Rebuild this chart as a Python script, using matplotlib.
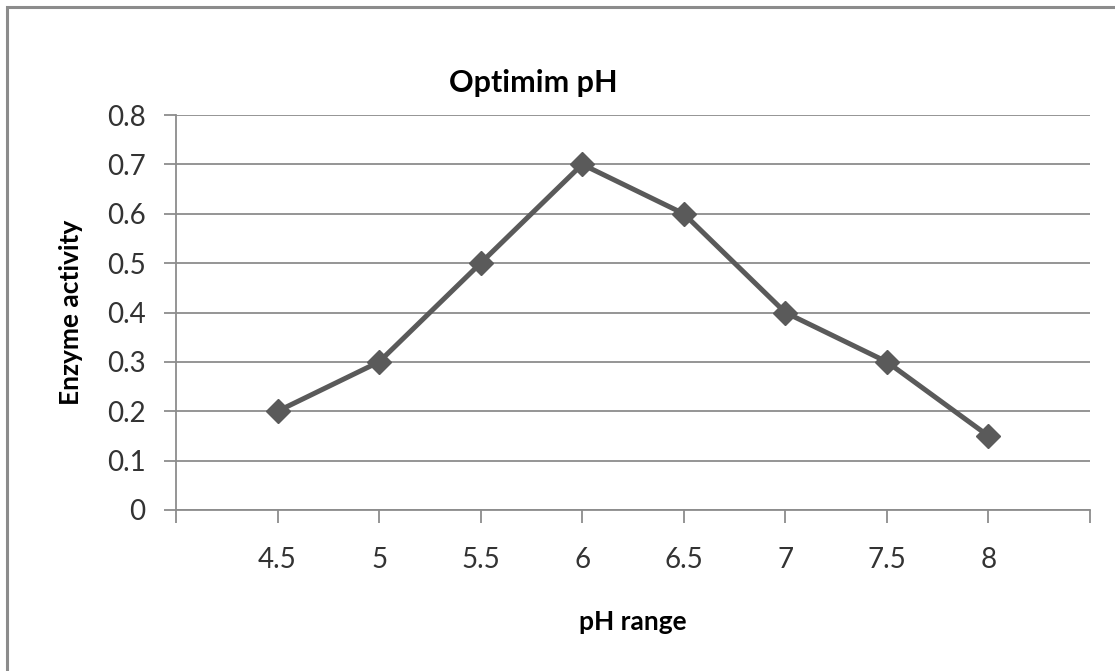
import numpy as np
import matplotlib
matplotlib.use('Agg')
from matplotlib import pyplot as plt
from matplotlib.patches import Rectangle

# data
ph_labels = ['4.5', '5', '5.5', '6', '6.5', '7', '7.5', '8']
activity = [0.2, 0.3, 0.5, 0.7, 0.6, 0.4, 0.3, 0.15]
y_ticks = [0, 0.1, 0.2, 0.3, 0.4, 0.5, 0.6, 0.7, 0.8]

plt.rcParams['font.family'] = ['Lato', 'DejaVu Sans']

fig = plt.figure(figsize=(11.15, 6.71), dpi=100)
ax = fig.add_axes([176/1115., 1-510/671., (1090-176)/1115., (510-115)/671.])

# outer chart frame (only top and left visible in the crop)
fig.patches.append(Rectangle((7/1115., -0.1), 1.2, 1-7/671.+0.1, transform=fig.transFigure,
                             fill=False, edgecolor='#8c8c8c', linewidth=2.2))

pos = np.arange(1, len(ph_labels)+1)
ax.plot(pos, activity, color='#5a5a5a', linewidth=3.6, marker='D', markersize=12,
        markerfacecolor='#5a5a5a', markeredgecolor='#5a5a5a', zorder=3)

ax.set_xlim(0, len(ph_labels)+1)
ax.set_ylim(0, 0.8)
ax.set_yticks(y_ticks)
ax.set_yticklabels(['0' if v == 0 else str(v) for v in y_ticks])
ax.set_xticks(pos)
ax.set_xticklabels(ph_labels)
ax.set_xticks([0, len(ph_labels)+1], minor=True)

ax.grid(axis='y', color='#8c8c8c', linewidth=1.3)
ax.set_axisbelow(True)
for s in ['top', 'right']:
    ax.spines[s].set_visible(False)
for s in ['left', 'bottom']:
    ax.spines[s].set_color('#8c8c8c')
    ax.spines[s].set_linewidth(1.3)

ax.tick_params(axis='both', which='both', direction='out', length=9, width=1.3,
               color='#8c8c8c', labelsize=20, labelcolor='#333333')
ax.tick_params(axis='x', pad=18)
ax.tick_params(axis='y', pad=13)

ax.set_ylabel('Enzyme activity', fontsize=19, fontweight='bold', labelpad=17)
ax.set_xlabel('pH range', fontsize=19, fontweight='bold', labelpad=26)
fig.text(533/1115., 1-83/671., 'Optimim pH', fontsize=22, fontweight='bold',
         ha='center', va='center')

fig.savefig('out.png', dpi=100, facecolor='white')
